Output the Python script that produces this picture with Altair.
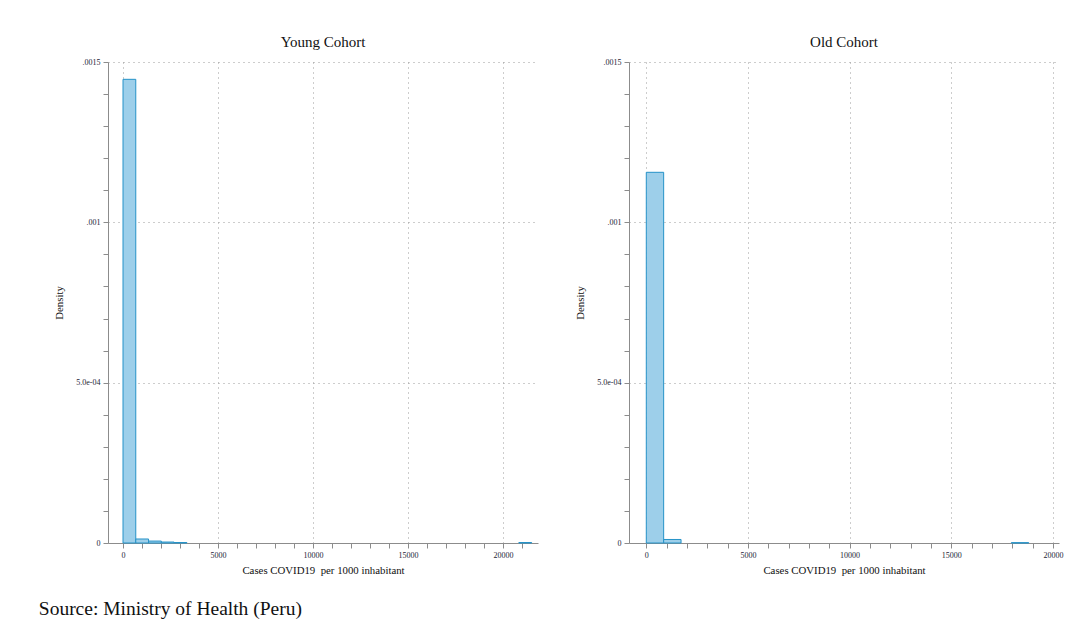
import altair as alt
import pandas as pd

# ---- data ----
young_bin_width = 672
young_density = [0.001446, 1.25e-5, 6.0e-6, 3.0e-6, 1.5e-6] + [0.0] * 26 + [1.5e-6]

old_bin_width = 855
old_density = [0.001156, 1.1e-5] + [0.0] * 19 + [1.0e-6]

y_minor_step = 0.0001
x_minor_step = 1000

panel_titles = ["Young Cohort", "Old Cohort"]
x_title = "Cases COVID19\u00a0 per 1000 inhabitant"
y_title = "Density"
source_text = "Source: Ministry of Health (Peru)"

FONT = "Liberation Serif"


def make_df(width, dens):
    return pd.DataFrame({
        "start": [i * width for i in range(len(dens))],
        "end": [(i + 1) * width for i in range(len(dens))],
        "density": dens,
    })


y_vals = [round(i * y_minor_step, 6) for i in range(16)]

y_label_expr = (
    "abs(datum.value) < 1e-9 ? '0' : "
    "abs(datum.value - 0.0005) < 1e-9 ? '5.0e-04' : "
    "abs(datum.value - 0.001) < 1e-9 ? '.001' : "
    "abs(datum.value - 0.0015) < 1e-9 ? '.0015' : ''"
)
y_major_test = "abs(datum.value/0.0005 - round(datum.value/0.0005)) < 1e-6"
x_major_test = "datum.value % 5000 == 0"


def panel(df, title, xdomain, xmax_tick):
    x_vals = list(range(0, xmax_tick + 1, x_minor_step))
    base = alt.Chart(df).transform_filter("datum.density > 0")
    return base.mark_bar(
        fill="#9dcfea", stroke="#2592c8", strokeWidth=1, opacity=1
    ).encode(
        x=alt.X(
            "start:Q",
            scale=alt.Scale(domain=xdomain, nice=False, zero=False),
            axis=alt.Axis(
                values=x_vals,
                title=x_title,
                format="d",
                labelExpr=f"{x_major_test} ? datum.label : ''",
                gridOpacity=alt.condition(x_major_test, alt.value(1), alt.value(0)),
                labelOverlap=False,
                labelFlush=False,
            ),
        ),
        x2="end:Q",
        y=alt.Y(
            "density:Q",
            scale=alt.Scale(domain=[0, 0.0015], nice=False, zero=True),
            axis=alt.Axis(
                values=y_vals,
                title=y_title,
                labelExpr=y_label_expr,
                gridOpacity=alt.condition(y_major_test, alt.value(1), alt.value(0)),
                labelOverlap=False,
                labelFlush=False,
                labelAngle=0,
                titlePadding=11,
            ),
        ),
        y2=alt.datum(0),
    ).properties(
        width=430,
        height=481,
        title=alt.TitleParams(title, fontSize=15, font=FONT, fontWeight="normal",
                              color="#111111", offset=8),
    )


left = panel(make_df(young_bin_width, young_density), panel_titles[0], [-790, 21840], 21000)
right = panel(make_df(old_bin_width, old_density), panel_titles[1], [-850, 20300], 20000)

chart = alt.hconcat(left, right, spacing=36).properties(
    title=alt.TitleParams(source_text, orient="bottom", anchor="start", fontSize=19.5,
                          font=FONT, fontWeight="normal", color="#111111",
                          offset=25, dx=-15),
    padding={"left": 30, "top": 27, "right": 5, "bottom": 5},
).configure_view(
    stroke=None
).configure_axis(
    labelFont=FONT,
    titleFont=FONT,
    labelFontSize=8,
    titleFontSize=10.8,
    titleFontWeight="normal",
    labelColor="#1c1c34",
    titleColor="#111111",
    domainColor="#8c8c8c",
    tickColor="#8c8c8c",
    tickSize=5,
    labelPadding=3,
    gridColor="#9a9a9a",
    gridDash=[1, 4],
    gridWidth=1,
).configure_axisX(
    titlePadding=5,
)

chart.save("out.html", embed_options={"renderer": "svg", "actions": False})
